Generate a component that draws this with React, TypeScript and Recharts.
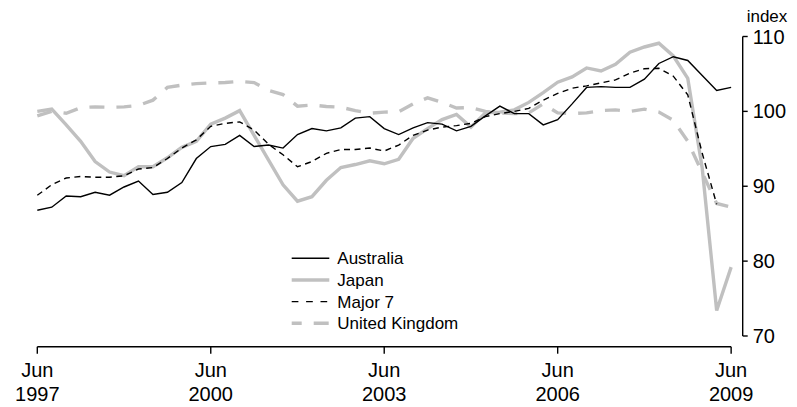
import { LineChart, Line, XAxis, YAxis, ReferenceLine, Legend } from "recharts";

// quarterly index, Jun 1997 .. Jun 2009
const australia = [
  86.8, 87.2, 88.7, 88.6, 89.2, 88.8, 89.9, 90.7, 88.9, 89.2, 90.5, 93.7,
  95.3, 95.6, 96.8, 95.3, 95.5, 95.1, 96.9, 97.7, 97.4, 97.8, 99.1, 99.3,
  97.7, 96.9, 97.8, 98.5, 98.3, 97.4, 98.0, 99.4, 100.7, 99.7, 99.7, 98.2,
  98.9, 101.0, 103.2, 103.3, 103.2, 103.2, 104.3, 106.4, 107.3, 106.8, 104.8, 102.8,
  103.2,
];
const japan = [
  100.0, 100.3, 98.2, 96.0, 93.3, 91.9, 91.4, 92.6, 92.6, 93.8, 95.2, 96.0,
  98.3, 99.1, 100.1, 96.8, 93.5, 90.2, 88.0, 88.6, 90.8, 92.5, 92.9, 93.4,
  93.0, 93.6, 96.4, 97.7, 98.9, 99.6, 97.9, 99.8, 99.9, 100.2, 101.2, 102.5,
  103.9, 104.6, 105.8, 105.4, 106.3, 107.9, 108.6, 109.1, 107.4, 104.4, 92.4, 73.4,
  79.2,
];
const major7 = [
  88.8, 90.2, 91.1, 91.3, 91.2, 91.2, 91.4, 92.3, 92.5, 93.7, 95.1, 96.2,
  98.0, 98.4, 98.6, 97.5, 95.6, 94.2, 92.6, 93.3, 94.4, 94.9, 94.9, 95.1,
  94.7, 95.5, 96.8, 97.5, 97.9, 98.1, 98.4, 99.3, 99.7, 100.0, 100.4, 101.5,
  102.4, 103.1, 103.4, 103.8, 104.2, 105.1, 105.7, 105.75, 104.7, 102.2, 94.4, 87.6,
  null,
];
const unitedKingdom = [
  99.4, 100.0, 99.75, 100.5, 100.6, 100.55, 100.6, 100.8, 101.5, 103.2, 103.5, 103.7,
  103.8, 103.85, 104.0, 103.85, 102.8, 102.25, 100.7, 100.85, 100.65, 100.55, 100.1, 99.75,
  99.9, 99.96, 101.0, 101.8, 101.2, 100.45, 100.5, 100.0, 99.8, 99.7, 99.8, 101.0,
  99.8, 99.7, 99.8, 100.1, 100.2, 100.0, 100.3, 99.9, 98.8, 96.0, 91.8, 87.7,
  87.2,
];

const tickMonth = "Jun";
const tickYears = ["1997", "2000", "2003", "2006", "2009"];
const xTicks = [0, 12, 24, 36, 48];
const yTicks = [70, 80, 90, 100, 110];

const data = australia.map((v, i) => ({
  q: i,
  australia: v,
  japan: japan[i],
  major7: major7[i],
  uk: unitedKingdom[i],
}));

const FONT = "'Liberation Sans', Arial, sans-serif";
const GREY = "#c0c0c0";

// axis geometry (the x axis sits a little below the 70 line, the y axis a little right of the last quarter)
const X_MAX = 48.8;
const Y_MIN = 68.57;

const series = [
  { key: "australia", name: "Australia", color: "#000", width: 1.4, dash: undefined as string | undefined, legendDash: undefined as string | undefined, legendOffset: 0 },
  { key: "japan", name: "Japan", color: GREY, width: 3.4, dash: undefined, legendDash: undefined, legendOffset: 0 },
  { key: "major7", name: "Major 7", color: "#000", width: 1.4, dash: "6 4.5", legendDash: "6.7 7.7", legendOffset: 0 },
  { key: "uk", name: "United Kingdom", color: GREY, width: 3.4, dash: "15 12", legendDash: "15 12", legendOffset: 5 },
];

// grey lines underneath, black on top
const drawOrder = ["uk", "japan", "major7", "australia"];

function XTick(props: any) {
  const { x, y, payload } = props;
  const k = xTicks.indexOf(payload.value);
  return (
    <text x={x} textAnchor="middle" fontSize={20} fontFamily={FONT} fill="#000">
      <tspan x={x} y={y + 23}>{tickMonth}</tspan>
      <tspan x={x} y={y + 47.3}>{tickYears[k]}</tspan>
    </text>
  );
}

function renderLegend() {
  return (
    <svg width={200} height={90} style={{ display: "block" }}>
      {series.map((s, k) => {
        const cy = 11.3 + k * 21.67;
        return (
          <g key={s.key}>
            <line
              x1={0.7}
              x2={38.3}
              y1={cy}
              y2={cy}
              stroke={s.color}
              strokeWidth={s.width}
              strokeDasharray={s.legendDash}
              strokeDashoffset={s.legendOffset}
            />
            <text x={46.3} y={cy + 6} fontSize={17} fontFamily={FONT} fill="#000">
              {s.name}
            </text>
          </g>
        );
      })}
    </svg>
  );
}

export default function App() {
  return (
    <div style={{ position: "absolute", left: 0, top: 0, width: 797, height: 407, background: "#fff" }}>
      <LineChart
        width={797}
        height={407}
        data={data}
        margin={{ top: 36.5, right: 0, bottom: 0, left: 37.3 }}
      >
        <XAxis
          dataKey="q"
          type="number"
          domain={[0, X_MAX]}
          ticks={xTicks}
          interval={0}
          axisLine={false}
          tickLine={{ stroke: "#000", strokeWidth: 1.4 }}
          tickSize={7}
          tickMargin={0}
          height={60.3}
          tick={<XTick />}
        />
        <YAxis
          orientation="right"
          domain={[Y_MIN, 110]}
          ticks={yTicks}
          interval={0}
          axisLine={false}
          tickLine={{ stroke: "#000", strokeWidth: 1.4 }}
          tickSize={5}
          tickMargin={5}
          width={54.3}
          tick={{ fontSize: 20, fontFamily: FONT, fill: "#000" }}
        />
        <ReferenceLine
          segment={[{ x: 0, y: Y_MIN }, { x: 48, y: Y_MIN }]}
          stroke="#000"
          strokeWidth={1.4}
          ifOverflow="visible"
        />
        <ReferenceLine
          segment={[{ x: X_MAX, y: 70 }, { x: X_MAX, y: 110 }]}
          stroke="#000"
          strokeWidth={1.4}
          ifOverflow="visible"
        />
        {drawOrder.map((k) => {
          const s = series.find((d) => d.key === k)!;
          return (
            <Line
              key={s.key}
              dataKey={s.key}
              name={s.name}
              type="linear"
              stroke={s.color}
              strokeWidth={s.width}
              strokeDasharray={s.dash}
              dot={false}
              activeDot={false}
              isAnimationActive={false}
            />
          );
        })}
        <Legend
          layout="vertical"
          align="center"
          verticalAlign="middle"
          content={renderLegend}
          wrapperStyle={{ left: 291, top: 247, width: 200, height: 90 }}
        />
      </LineChart>
      <svg
        width={797}
        height={407}
        style={{ position: "absolute", left: 0, top: 0, pointerEvents: "none" }}
      >
        <text x={746.7} y={21.7} fontSize={17} fontFamily={FONT} fill="#000">
          index
        </text>
      </svg>
    </div>
  );
}
